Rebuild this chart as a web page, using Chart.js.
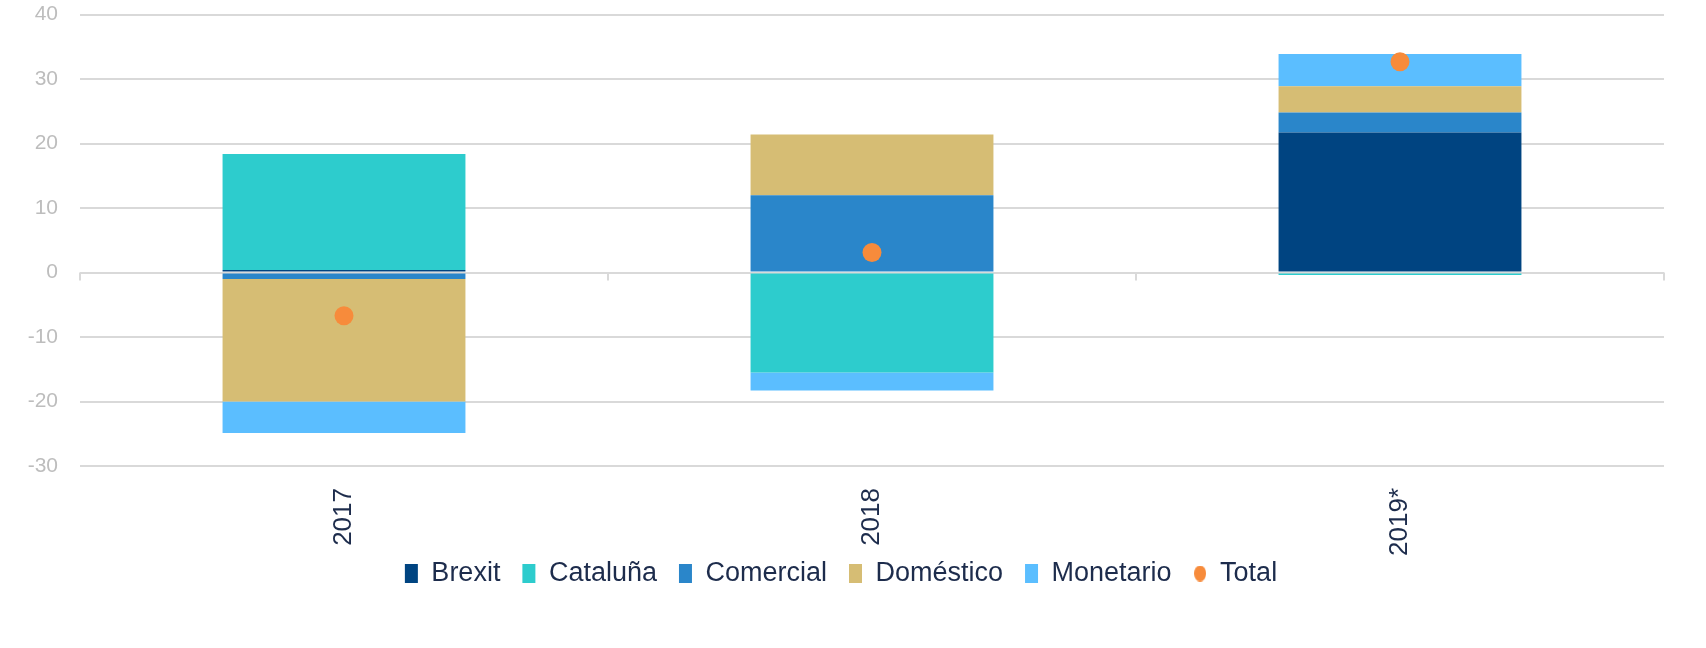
<!DOCTYPE html>
<html>
<head>
<meta charset="utf-8">
<script src="https://cdn.jsdelivr.net/npm/chart.js@4/dist/chart.umd.min.js"></script>
<style>
  html, body { margin: 0; padding: 0; background: #fff; }
  #wrap { width: 1706px; height: 648px; position: relative; }
</style>
</head>
<body>
<div id="wrap"><canvas id="chart"></canvas></div>
<script>
// categories and series
const years = ['2017', '2018', '2019*'];
const brexit = [0.4, 0, 21.7];
const cataluna = [18.0, -15.5, -0.4];
const comercial = [-1.0, 12.0, 3.1];
const domestico = [-19.0, 9.4, 4.1];
const monetario = [-4.9, -2.8, 5.0];
const total = [-6.7, 3.1, 32.7];

const yTicks = [-30, -20, -10, 0, 10, 20, 30, 40];

const colors = {
  brexit: '#004481',
  cataluna: '#2dcccd',
  comercial: '#2a86ca',
  domestico: '#d6bd74',
  monetario: '#5bbeff',
  total: '#f78b3b',
};

// oval marker for "Total" in the legend
const totalMark = document.createElement('canvas');
totalMark.width = 12;
totalMark.height = 16;
{
  const c = totalMark.getContext('2d');
  c.fillStyle = colors.total;
  c.beginPath();
  c.ellipse(6, 8, 6, 8, 0, 0, Math.PI * 2);
  c.fill();
}

// little tick marks under the zero line at the category borders
const zeroTicks = {
  id: 'zeroTicks',
  afterDatasetsDraw(chart) {
    const { ctx, scales } = chart;
    const x = scales.x;
    const y0 = scales.y.getPixelForValue(0);
    ctx.save();
    ctx.strokeStyle = '#d9d9d9';
    ctx.lineWidth = 2;
    for (let i = 0; i <= years.length; i++) {
      const px = x.left + (x.width / years.length) * i;
      ctx.beginPath();
      ctx.moveTo(px, y0);
      ctx.lineTo(px, y0 + 8);
      ctx.stroke();
    }
    ctx.restore();
  },
};

const bar = (label, data, color) => ({
  type: 'bar',
  label,
  data,
  backgroundColor: color,
  borderWidth: 0,
  pointStyle: 'rect',
  stack: 'main',
  order: 1,
});

const data = {
  labels: years,
  datasets: [
    bar('Brexit', brexit, colors.brexit),
    bar('Cataluña', cataluna, colors.cataluna),
    bar('Comercial', comercial, colors.comercial),
    bar('Doméstico', domestico, colors.domestico),
    bar('Monetario', monetario, colors.monetario),
    {
      type: 'line',
      label: 'Total',
      data: total,
      showLine: false,
      stack: 'total',
      order: 0,
      pointStyle: 'circle',
      pointRadius: 9.5,
      pointHoverRadius: 9.5,
      backgroundColor: colors.total,
      borderColor: colors.total,
      borderWidth: 0,
    },
  ],
};

Chart.defaults.font.family = '"Liberation Sans", Arial, sans-serif';

new Chart(document.getElementById('chart'), {
  type: 'bar',
  data,
  plugins: [zeroTicks],
  options: {
    responsive: true,
    maintainAspectRatio: false,
    animation: false,
    layout: { padding: { top: 0, right: 42, bottom: 51, left: 18 } },
    datasets: {
      bar: { categoryPercentage: 1, barPercentage: 0.46 },
    },
    scales: {
      x: {
        stacked: true,
        grid: { display: false },
        border: { display: false },
        afterFit: (scale) => {
          // rotated labels run down close to the legend, as in the original; don't clip them
          scale.height = 72;
          scale._computeLabelArea = () => undefined;
        },
        ticks: {
          color: '#1d2c4c',
          font: { size: 26 },
          minRotation: 90,
          maxRotation: 90,
          padding: 14,
        },
      },
      y: {
        stacked: true,
        min: -30,
        max: 40,
        afterBuildTicks: (scale) => { scale.ticks = yTicks.map((v) => ({ value: v })); },
        afterFit: (scale) => { scale.width = 62; },
        grid: { color: '#d9d9d9', lineWidth: 2, drawTicks: true, tickLength: 20, tickColor: 'transparent' },
        border: { display: false },
        ticks: {
          color: '#bdbdbd',
          font: { size: 21 },
          padding: 2,
        },
      },
    },
    plugins: {
      tooltip: { enabled: false },
      legend: {
        position: 'bottom',
        labels: {
          usePointStyle: true,
          pointStyleWidth: 13,
          boxHeight: 19,
          padding: 22,
          color: '#1d2c4c',
          font: { size: 27 },
          sort: (a, b) => a.datasetIndex - b.datasetIndex,
          generateLabels: (chart) => Chart.defaults.plugins.legend.labels.generateLabels(chart)
            .map((it) => (it.text === 'Total' ? { ...it, pointStyle: totalMark } : it)),
        },
      },
    },
  },
});
</script>
</body>
</html>
